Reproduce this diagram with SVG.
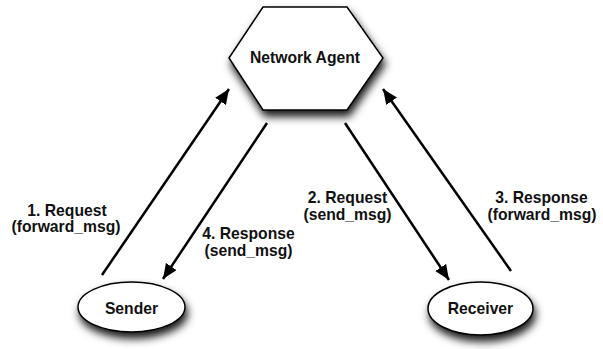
<svg xmlns="http://www.w3.org/2000/svg" width="603" height="349" viewBox="0 0 603 349">
<defs>
<filter id="sh" x="-30%" y="-30%" width="160%" height="180%">
<feDropShadow dx="2" dy="6" stdDeviation="4.5" flood-color="#000" flood-opacity="0.9"/>
</filter>
<marker id="ah" markerUnits="userSpaceOnUse" markerWidth="16" markerHeight="14" refX="15" refY="6.5" orient="auto">
<path d="M0,0 L15,6.5 L0,13 Z" fill="#000"/>
</marker>
<style>
.node{fill:#fff;stroke:#000;stroke-width:1.5;filter:url(#sh)}
.t{font-family:"Liberation Sans",Arial,Helvetica,sans-serif;font-weight:bold;font-size:15.7px;text-anchor:middle;fill:#111}
.c{stroke:#000;stroke-width:2.5;fill:none;marker-end:url(#ah)}
</style>
</defs>
<rect width="603" height="349" fill="#fff"/>
<g id="agent">
<polygon class="node" points="229,58 263,7 347,7 383,58 347,110 263,110"/>
<text class="t" x="305" y="63">Network Agent</text>
</g>
<g id="sender">
<ellipse class="node" cx="131.5" cy="307" rx="53.5" ry="25"/>
<text class="t" x="131.5" y="314">Sender</text>
</g>
<g id="receiver">
<ellipse class="node" cx="480.5" cy="308.5" rx="52.5" ry="26.5"/>
<text class="t" x="480.5" y="314">Receiver</text>
</g>
<g id="connectors">
<line class="c" x1="102" y1="275" x2="229" y2="89"/>
<line class="c" x1="267" y1="123" x2="163" y2="279"/>
<line class="c" x1="345" y1="123" x2="449" y2="280"/>
<line class="c" x1="511" y1="271" x2="383" y2="89"/>
</g>
<g id="labels">
<text class="t" x="67" y="215.5">1. Request</text>
<text class="t" x="66" y="232">(forward_msg)</text>
<text class="t" x="248.5" y="239">4. Response</text>
<text class="t" x="248.5" y="255.5">(send_msg)</text>
<text class="t" x="347.5" y="203">2. Request</text>
<text class="t" x="347.5" y="219.5">(send_msg)</text>
<text class="t" x="541.5" y="203">3. Response</text>
<text class="t" x="542" y="219.5">(forward_msg)</text>
</g>
</svg>
